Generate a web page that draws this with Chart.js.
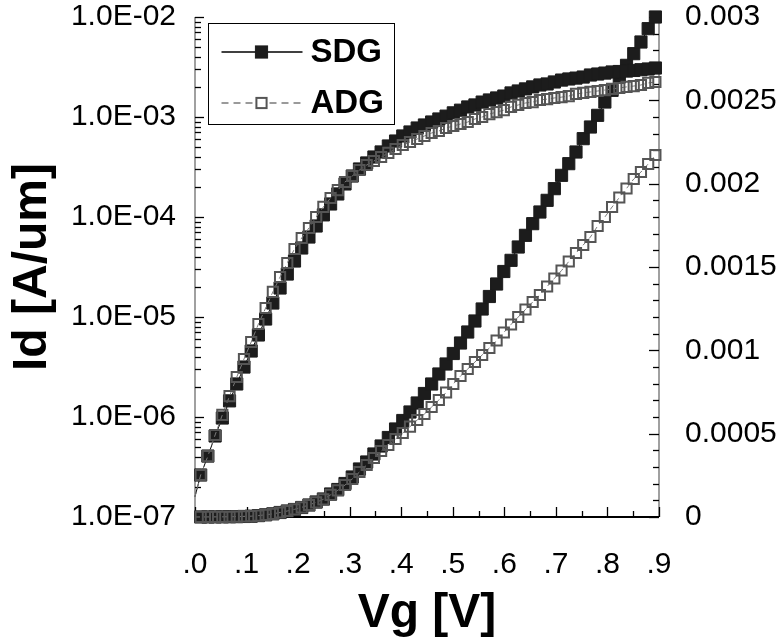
<!DOCTYPE html>
<html><head><meta charset="utf-8">
<script src="https://cdn.jsdelivr.net/npm/chart.js@4.4.1/dist/chart.umd.min.js"></script>
<style>html,body{margin:0;padding:0;background:#fff;} #wrap{width:780px;height:641px;}</style>
</head><body><div id="wrap"><canvas id="c" width="780" height="641"></canvas></div>
<script>
// ---------- DATA ----------
const seriesNames = ['SDG', 'ADG'];
const Vg = [0, 0.011, 0.025, 0.039, 0.053, 0.067, 0.081, 0.095, 0.109, 0.123, 0.137, 0.151, 0.165, 0.179, 0.193, 0.207, 0.221, 0.235, 0.249, 0.263, 0.277, 0.291, 0.305, 0.319, 0.333, 0.347, 0.361, 0.375, 0.389, 0.403, 0.417, 0.431, 0.445, 0.459, 0.473, 0.487, 0.501, 0.515, 0.529, 0.543, 0.557, 0.571, 0.585, 0.599, 0.613, 0.627, 0.641, 0.655, 0.669, 0.683, 0.697, 0.711, 0.725, 0.739, 0.753, 0.767, 0.781, 0.795, 0.809, 0.823, 0.837, 0.851, 0.865, 0.879, 0.893];
// Id on the log (left) axis
const sdgLog = [1.6e-7,
  2.63e-7, 4.07e-7, 6.46e-7, 9.77e-7, 1.45e-6, 2.14e-6, 3.16e-6, 4.57e-6, 6.61e-6, 9.55e-6,
  1.38e-5, 1.95e-5, 2.69e-5, 3.63e-5, 4.90e-5, 6.31e-5, 8.13e-5, 1.05e-4, 1.35e-4, 1.70e-4,
  2.14e-4, 2.57e-4, 3.02e-4, 3.47e-4, 3.98e-4, 4.47e-4, 5.13e-4, 5.75e-4, 6.46e-4, 7.08e-4,
  7.76e-4, 8.32e-4, 8.91e-4, 9.55e-4, 1.02e-3, 1.10e-3, 1.17e-3, 1.26e-3, 1.32e-3, 1.41e-3,
  1.48e-3, 1.55e-3, 1.62e-3, 1.74e-3, 1.82e-3, 1.91e-3, 2.00e-3, 2.09e-3, 2.14e-3, 2.24e-3,
  2.34e-3, 2.40e-3, 2.45e-3, 2.51e-3, 2.63e-3, 2.69e-3, 2.75e-3, 2.82e-3, 2.85e-3, 2.88e-3,
  2.92e-3, 2.97e-3, 3.02e-3, 3.09e-3];
const adgLog = [1.6e-7,
  2.63e-7, 4.07e-7, 6.61e-7, 1.05e-6, 1.62e-6, 2.51e-6, 3.80e-6, 5.62e-6, 8.51e-6, 1.23e-5,
  1.78e-5, 2.51e-5, 3.47e-5, 4.79e-5, 6.17e-5, 7.76e-5, 1.00e-4, 1.26e-4, 1.55e-4, 1.86e-4,
  2.24e-4, 2.57e-4, 2.95e-4, 3.31e-4, 3.63e-4, 3.98e-4, 4.37e-4, 4.79e-4, 5.25e-4, 5.62e-4,
  6.03e-4, 6.46e-4, 6.92e-4, 7.24e-4, 7.76e-4, 8.13e-4, 8.51e-4, 8.91e-4, 9.55e-4, 1.00e-3,
  1.07e-3, 1.12e-3, 1.17e-3, 1.26e-3, 1.32e-3, 1.38e-3, 1.41e-3, 1.48e-3, 1.51e-3, 1.55e-3,
  1.58e-3, 1.62e-3, 1.70e-3, 1.74e-3, 1.78e-3, 1.82e-3, 1.86e-3, 1.91e-3, 1.95e-3, 2.00e-3,
  2.04e-3, 2.09e-3, 2.19e-3, 2.24e-3];
// Id on the linear (right) axis
const sdgLin = [1.6e-7,
  2.6e-7, 4.1e-7, 6.5e-7, 9.8e-7, 1.5e-6, 2.1e-6, 3.2e-6, 4.8e-6, 8.4e-6, 1.3e-5,
  1.9e-5, 2.7e-5, 3.6e-5, 4.5e-5, 5.7e-5, 7.2e-5, 9.0e-5, 1.08e-4, 1.38e-4, 1.65e-4,
  2.01e-4, 2.40e-4, 2.88e-4, 3.30e-4, 3.78e-4, 4.26e-4, 4.77e-4, 5.28e-4, 5.79e-4, 6.30e-4,
  6.84e-4, 7.41e-4, 7.98e-4, 8.58e-4, 9.18e-4, 9.81e-4, 1.044e-3, 1.11e-3, 1.176e-3, 1.248e-3,
  1.323e-3, 1.398e-3, 1.473e-3, 1.54e-3, 1.62e-3, 1.69e-3, 1.76e-3, 1.83e-3, 1.90e-3, 1.97e-3,
  2.05e-3, 2.12e-3, 2.19e-3, 2.27e-3, 2.34e-3, 2.41e-3, 2.49e-3, 2.56e-3, 2.64e-3, 2.71e-3,
  2.78e-3, 2.85e-3, 2.93e-3, 3.00e-3];
const adgLin = [1.6e-7,
  2.6e-7, 4.1e-7, 6.6e-7, 1.05e-6, 1.6e-6, 2.5e-6, 3.8e-6, 5.0e-6, 8.5e-6, 1.3e-5,
  1.9e-5, 2.7e-5, 3.6e-5, 4.6e-5, 5.8e-5, 7.2e-5, 8.8e-5, 1.06e-4, 1.33e-4, 1.60e-4,
  1.92e-4, 2.28e-4, 2.70e-4, 3.12e-4, 3.54e-4, 3.96e-4, 4.32e-4, 4.68e-4, 5.04e-4, 5.42e-4,
  5.82e-4, 6.18e-4, 6.60e-4, 7.02e-4, 7.47e-4, 7.98e-4, 8.46e-4, 8.88e-4, 9.30e-4, 9.72e-4,
  1.014e-3, 1.059e-3, 1.107e-3, 1.155e-3, 1.200e-3, 1.245e-3, 1.290e-3, 1.332e-3, 1.383e-3, 1.431e-3,
  1.479e-3, 1.533e-3, 1.584e-3, 1.632e-3, 1.680e-3, 1.746e-3, 1.800e-3, 1.860e-3, 1.917e-3, 1.971e-3,
  2.028e-3, 2.070e-3, 2.118e-3, 2.172e-3];
const xTickLabels = ['.0', '.1', '.2', '.3', '.4', '.5', '.6', '.7', '.8', '.9'];
const leftTickValues = [1e-7, 1e-6, 1e-5, 1e-4, 1e-3, 1e-2];
const leftTickLabels = ['1.0E-07', '1.0E-06', '1.0E-05', '1.0E-04', '1.0E-03', '1.0E-02'];
const rightTickLabels = ['0', '0.0005', '0.001', '0.0015', '0.002', '0.0025', '0.003'];
const xTitle = 'Vg [V]';
const yTitle = 'Id [A/um]';

// ---------- STYLE ----------
const FONT = "'Liberation Sans', Arial, Helvetica, sans-serif";
Chart.defaults.font.family = FONT;
const SDG_STYLE = {borderColor: '#000', borderWidth: 1, pointStyle: 'rect', pointBackgroundColor: '#1c1c1c', pointBorderColor: '#1c1c1c', pointBorderWidth: 1, radius: 8.6};
const ADG_STYLE = {borderColor: '#7a7a7a', borderWidth: 1, borderDash: [5, 4], pointStyle: 'rect', pointBackgroundColor: 'rgba(0,0,0,0)', pointBorderColor: '#555555', pointBorderWidth: 2, radius: 7.2};

function makeDs(label, arr, axis, st, order) {
  return {
    label: label,
    data: Vg.map((v, i) => ({x: v, y: arr[i]})),
    yAxisID: axis,
    borderColor: st.borderColor, borderWidth: st.borderWidth, borderDash: st.borderDash || [],
    pointStyle: st.pointStyle,
    pointBackgroundColor: st.pointBackgroundColor,
    pointBorderColor: st.pointBorderColor,
    pointBorderWidth: st.pointBorderWidth,
    pointRadius: Vg.map((v, i) => i === 0 ? 0 : st.radius),
    pointHoverRadius: 0,
    tension: 0, fill: false, clip: false, order: order
  };
}

function line(ctx, x1, y1, x2, y2) { ctx.beginPath(); ctx.moveTo(x1, y1); ctx.lineTo(x2, y2); ctx.stroke(); }

const axesPlugin = {
  id: 'axesTicks',
  beforeDatasetsDraw(chart) {
    const {ctx, chartArea: a, scales} = chart;
    const xs = scales.x, yl = scales.y, yr = scales.y2;
    ctx.save();
    ctx.strokeStyle = '#808080'; ctx.lineWidth = 1.5;
    line(ctx, a.left, a.top, a.left, a.bottom);
    line(ctx, a.right, a.top, a.right, a.bottom);
    ctx.strokeStyle = '#000'; ctx.lineWidth = 1.3;
    for (let e = -7; e <= -2; e++) {
      for (let m = 1; m <= 9; m++) {
        if (e === -2 && m > 1) break;
        const py = Math.round(yl.getPixelForValue(m * Math.pow(10, e))) + 0.5;
        line(ctx, a.left, py, a.left + (m === 1 ? 9 : 6), py);
      }
    }
    for (let i = 0; i <= 30; i++) {
      const py = Math.round(yr.getPixelForValue(i * 0.0001)) + 0.5;
      line(ctx, a.right - (i % 5 === 0 ? 10 : 6), py, a.right, py);
    }
    for (let i = 0; i <= 18; i++) {
      const px = Math.round(xs.getPixelForValue(i * 0.05)) + 0.5;
      line(ctx, px, a.bottom, px, a.bottom - (i % 2 === 0 ? 10 : 6));
    }
    ctx.lineWidth = 2;
    line(ctx, a.left, a.bottom, a.right, a.bottom);
    ctx.restore();
  }
};

const legendPlugin = {
  id: 'boxLegend',
  afterDraw(chart) {
    const {ctx, chartArea: a} = chart;
    const bx = a.left + 13.5, by = a.top + 6.5, bw = 186, bh = 101;
    ctx.save();
    ctx.fillStyle = '#fff'; ctx.fillRect(bx, by, bw, bh);
    ctx.strokeStyle = '#000'; ctx.lineWidth = 1; ctx.strokeRect(bx, by, bw, bh);
    const rows = [{name: seriesNames[0], st: SDG_STYLE, y: by + 28.5}, {name: seriesNames[1], st: ADG_STYLE, y: by + 79.5}];
    rows.forEach(r => {
      ctx.strokeStyle = r.st.borderColor; ctx.lineWidth = 1.5;
      ctx.setLineDash(r.st.borderDash ? [7, 5] : []);
      line(ctx, bx + 13, r.y, bx + 94, r.y);
      ctx.setLineDash([]);
      const cx = bx + 53, s = Math.SQRT1_2 * r.st.radius;
      ctx.fillStyle = r.st.pointBackgroundColor === 'rgba(0,0,0,0)' ? '#fff' : r.st.pointBackgroundColor;
      ctx.fillRect(cx - s, r.y - s, 2 * s, 2 * s);
      ctx.strokeStyle = r.st.pointBorderColor; ctx.lineWidth = r.st.pointBorderWidth;
      ctx.strokeRect(cx - s, r.y - s, 2 * s, 2 * s);
      ctx.fillStyle = '#000';
      ctx.font = 'bold 33px ' + FONT;
      ctx.textBaseline = 'middle'; ctx.textAlign = 'left';
      ctx.fillText(r.name, bx + 102, r.y + 1);
    });
    ctx.restore();
  }
};

function noPad(s) { s.paddingTop = 0; s.paddingBottom = 0; }

new Chart(document.getElementById('c'), {
  type: 'line',
  data: {
    datasets: [
      makeDs(seriesNames[1], adgLog, 'y', ADG_STYLE, 0),
      makeDs(seriesNames[1], adgLin, 'y2', ADG_STYLE, 1),
      makeDs(seriesNames[0], sdgLog, 'y', SDG_STYLE, 2),
      makeDs(seriesNames[0], sdgLin, 'y2', SDG_STYLE, 3)
    ]
  },
  options: {
    responsive: false, animation: false, devicePixelRatio: 1,
    layout: {padding: {left: 0, right: 0, top: 17, bottom: 0}},
    plugins: {legend: {display: false}, tooltip: {enabled: false}},
    events: [],
    scales: {
      x: {
        type: 'linear', position: 'bottom', min: 0, max: 0.9,
        grid: {display: false, drawTicks: false}, border: {display: false},
        ticks: {stepSize: 0.1, autoSkip: false, maxRotation: 0, padding: 33, color: '#000',
          font: {size: 30, lineHeight: 1}, callback: (v) => xTickLabels[Math.round(v * 10)]},
        title: {display: true, text: xTitle, color: '#000', font: {size: 48, weight: 'bold'}, padding: {top: 0, bottom: -2}},
        afterFit(s) { s.height = 124; s.paddingLeft = 0; s.paddingRight = 0; }
      },
      y: {
        type: 'logarithmic', position: 'left', min: 1e-7, max: 1e-2,
        grid: {display: false, drawTicks: false}, border: {display: false},
        afterBuildTicks(s) { s.ticks = leftTickValues.map(v => ({value: v, major: true})); },
        ticks: {autoSkip: false, padding: 19, color: '#000', font: {size: 30, lineHeight: 1},
          callback: (v) => leftTickLabels[Math.round(Math.log10(v)) + 7]},
        title: {display: true, text: yTitle, color: '#000', font: {size: 48, weight: 'bold'}, padding: {top: 4, bottom: 0}},
        afterFit(s) { s.width = 195; noPad(s); }
      },
      y2: {
        type: 'linear', position: 'right', min: 0, max: 0.003,
        grid: {display: false, drawTicks: false}, border: {display: false},
        ticks: {stepSize: 0.0005, autoSkip: false, padding: 26, color: '#000', font: {size: 30, lineHeight: 1},
          callback: (v) => rightTickLabels[Math.round(v / 0.0005)]},
        afterFit(s) { s.width = 121; noPad(s); }
      }
    }
  },
  plugins: [axesPlugin, legendPlugin]
});
</script>
</body></html>
